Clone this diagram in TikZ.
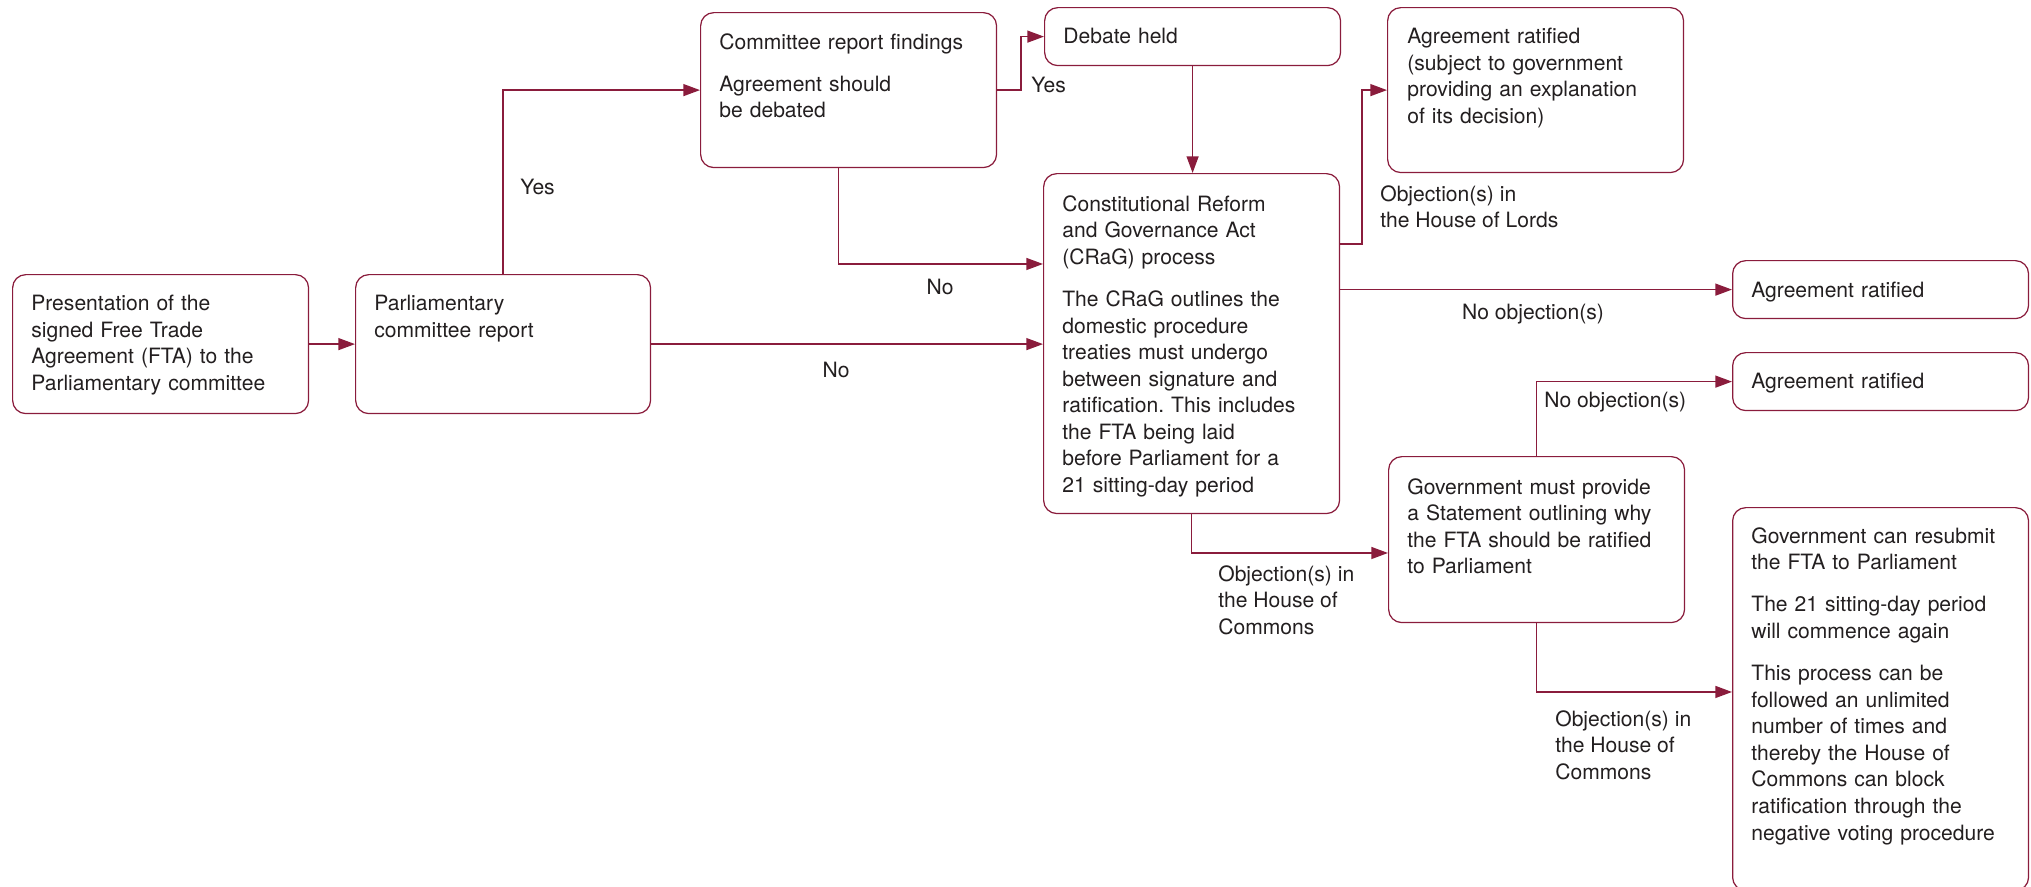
\documentclass[tikz,border=0pt]{standalone}
\usepackage{fontspec}
\setmainfont{TeX Gyre Heros}
\usetikzlibrary{arrows.meta, positioning, calc}
\definecolor{ftamaroon}{HTML}{8A1C3C}
\definecolor{ftatext}{HTML}{231F20}
\newcommand{\ftafont}{\fontsize{12pt}{15.1pt}\selectfont}
\frenchspacing
\tikzset{
  procbox/.style={draw=ftamaroon, line width=0.7pt, rounded corners=7.5pt,
                  minimum width=5.92cm, anchor=north west, inner sep=0pt},
  boxtxt/.style={anchor=north west, inner sep=0pt, text width=5.5cm,
                 align=left, font=\ftafont, text=ftatext},
  lbl/.style={inner sep=0pt, align=left, font=\ftafont, text=ftatext},
  arr/.style={-{Triangle[length=9.5pt,width=6.8pt]}, line width=0.9pt, ftamaroon},
}

\begin{document}
\begin{tikzpicture}[x=0.02cm, y=-0.02cm]
  \useasboundingbox (0,0) rectangle (2031,886);

  %% Left column
  \node[procbox, minimum height=2.78cm] (pres) at (12,274) {};
  \node[boxtxt] (pres-t) at (31,295)
    {Presentation of the\\signed Free Trade\\Agreement (FTA) to the\\Parliamentary committee};
  \node[procbox, minimum width=5.9cm, minimum height=2.78cm] (pcr) at (355,274) {};
  \node[boxtxt] (pcr-t) at (374,295) {Parliamentary\\committee report};

  %% Committee findings and debate
  \node[procbox, minimum height=3.1cm] (crf) at (700,12) {};
  \node[boxtxt] (crf-t) at (719,33)
    {Committee report findings\\[9pt]Agreement should\\be debated};
  \node[procbox, minimum height=1.16cm] (deb) at (1044,7) {};
  \node[boxtxt] (deb-t) at (1063,28) {Debate held};

  %% CRaG process
  \node[procbox, minimum height=6.8cm] (crag) at (1043,173) {};
  \node[boxtxt] (crag-t) at (1062,195)
    {Constitutional Reform\\and Governance Act\\(CRaG) process\\[9pt]
     The CRaG outlines the\\domestic procedure\\treaties must undergo\\between signature and\\
     ratification. This includes\\the FTA being laid\\before Parliament for a\\21 sitting-day period};

  %% Outcomes
  \node[procbox, minimum height=3.3cm] (ratL) at (1387,7) {};
  \node[boxtxt] (ratL-t) at (1407,28)
    {Agreement ratified\\(subject to government\\providing an explanation\\of its decision)};
  \node[procbox, minimum height=1.16cm] (rat1) at (1732,260) {};
  \node[boxtxt] (rat1-t) at (1751,282) {Agreement ratified};
  \node[procbox, minimum height=1.16cm] (rat2) at (1732,352) {};
  \node[boxtxt] (rat2-t) at (1751,373) {Agreement ratified};
  \node[procbox, minimum height=3.32cm] (gov) at (1388,456) {};
  \node[boxtxt] (gov-t) at (1407,478)
    {Government must provide\\a Statement outlining why\\the FTA should be ratified\\to Parliament};
  \node[procbox, minimum height=7.66cm] (resub) at (1732,507) {};
  \node[boxtxt] (resub-t) at (1751,527)
    {Government can resubmit\\the FTA to Parliament\\[9pt]
     The 21 sitting-day period\\will commence again\\[9pt]
     This process can be\\followed an unlimited\\number of times and\\thereby the House of\\
     Commons can block\\ratification through the\\negative voting procedure};

  %% Connectors
  \draw[arr] (pres.east) -- (pcr.west);
  \draw[arr] (pcr.north) |- (crf.west);
  \draw[arr] (pcr.east) -- (pcr.east -| crag.west);
  \draw[arr] ([xshift=-0.2cm]crf.south) |- ([yshift=-1.82cm]crag.north west);
  \draw[arr] (crf.east) -- ++(24,0) |- (deb.west);
  \draw[arr] (deb.south) -- (deb.south |- crag.north);
  \draw[arr] ([yshift=-1.42cm]crag.north east) -- ++(22,0) |- (ratL.west);
  \draw[arr] (crag.east |- rat1.west) -- (rat1.west);
  \draw[arr] (crag.south) |- ([yshift=-1.94cm]gov.north west);
  \draw[arr] (gov.north) |- (rat2.west);
  \draw[arr] (gov.south) |- ([yshift=-3.7cm]resub.north west);

  %% Connector labels
  \node[lbl, anchor=west] (yes1) at (520,187) {Yes};
  \node[lbl, anchor=west] (yes2) at (1031,85) {Yes};
  \node[lbl] (no1) at (940,287) {No};
  \node[lbl] (no2) at (836,370) {No};
  \node[lbl, anchor=north west] (lords) at (1380,185)
    {Objection(s) in\\the House of Lords};
  \node[lbl, anchor=base] (noobj1) at (1533,319) {No objection(s)};
  \node[lbl, anchor=base west] (noobj2) at (1544,407) {No objection(s)};
  \node[lbl, anchor=north west] (commons1) at (1218,565)
    {Objection(s) in\\the House of\\Commons};
  \node[lbl, anchor=north west] (commons2) at (1555,710)
    {Objection(s) in\\the House of\\Commons};

\end{tikzpicture}
\end{document}
